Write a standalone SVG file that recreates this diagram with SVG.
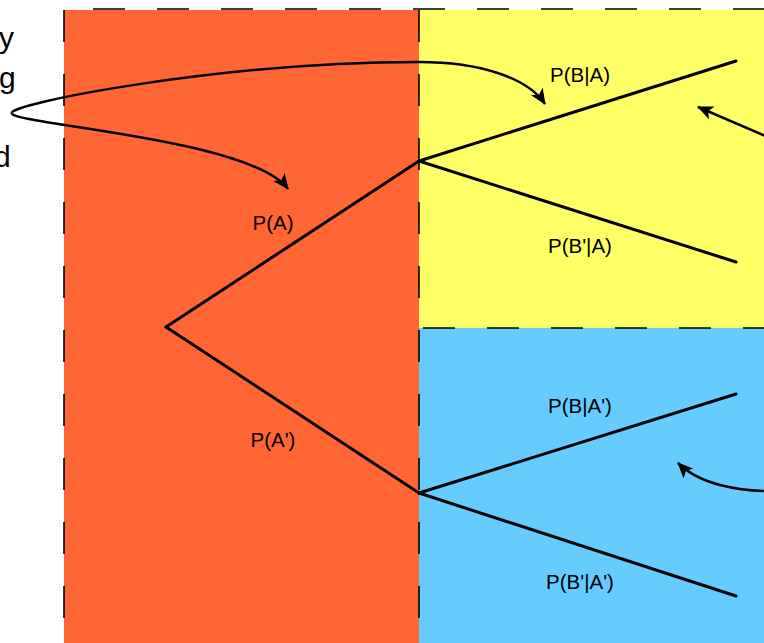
<svg xmlns="http://www.w3.org/2000/svg" width="764" height="643" viewBox="0 0 764 643">
<style>
.lbl{font-family:"Liberation Sans",Arial,sans-serif;font-size:20.5px;fill:#000;text-anchor:middle}
.side{font-family:"Liberation Sans",Arial,sans-serif;font-size:30px;fill:#000}
.dash{stroke:#000;stroke-width:1.6;stroke-dasharray:32 32;fill:none}
.branch{stroke:#000;stroke-width:3;fill:none;stroke-linecap:round}
.conn{stroke:#000;stroke-width:2.5;fill:none}
</style>
<defs>
<marker id="ah" viewBox="0 0 16 14" refX="15" refY="7" markerWidth="16" markerHeight="14" markerUnits="userSpaceOnUse" orient="auto">
<path d="M0,0 L16,7 L0,14 L4,7 z" fill="#000"/>
</marker>
</defs>
<rect width="764" height="643" fill="#fff"/>
<g id="regions">
<rect x="64" y="10" width="355" height="640" fill="#FF6633"/>
<rect x="419" y="10" width="350" height="318" fill="#FFFF66"/>
<rect x="419" y="328" width="350" height="320" fill="#66CCFF"/>
<path class="dash" d="M64,10 V650"/>
<path class="dash" d="M64,9 H764" stroke-dashoffset="35"/>
<path class="dash" d="M419,10 V650"/>
<path class="dash" d="M419,328 H764" stroke-dashoffset="60"/>
</g>
<g id="side-text">
<text class="side" x="-1" y="48">y</text>
<text class="side" x="-1" y="88">g</text>
<text class="side" x="-6" y="167">d</text>
</g>
<g id="node-root">
<path class="branch" d="M166,327 L419,161"/>
<path class="branch" d="M166,327 L419,493"/>
<text class="lbl" x="273" y="230">P(A)</text>
<text class="lbl" x="273" y="447">P(A')</text>
</g>
<g id="node-A">
<path class="branch" d="M419,161 L736,61"/>
<path class="branch" d="M419,161 L736,262"/>
<text class="lbl" x="580" y="82">P(B|A)</text>
<text class="lbl" x="580" y="253">P(B'|A)</text>
</g>
<g id="node-notA">
<path class="branch" d="M419,493 L736,394"/>
<path class="branch" d="M419,493 L736,596"/>
<text class="lbl" x="580" y="413">P(B|A')</text>
<text class="lbl" x="580" y="589">P(B'|A')</text>
</g>
<g id="connectors">
<path class="conn" marker-end="url(#ah)" d="M12,113 C8,104 220,62 419,62 C480,62 528,78 545,104"/>
<path class="conn" marker-end="url(#ah)" d="M12,113 C8,124 250,138 288,189"/>
<path class="conn" marker-end="url(#ah)" d="M775,140 L698,107"/>
<path class="conn" marker-end="url(#ah)" d="M770,491 C740,491 700,485 678,463"/>
</g>
</svg>
